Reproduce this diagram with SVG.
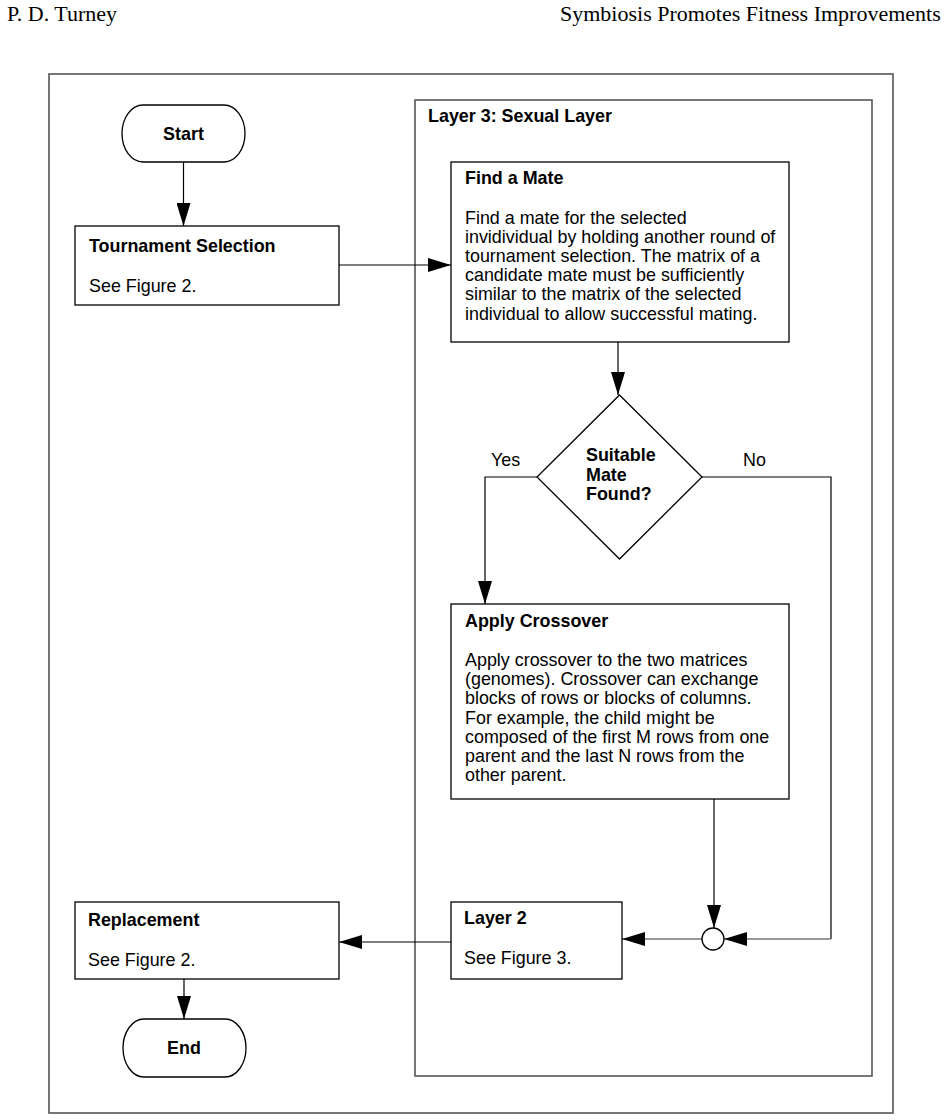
<svg xmlns="http://www.w3.org/2000/svg" width="948" height="1120" viewBox="0 0 948 1120">
<style>
.hdr{font-family:"Liberation Serif","Times New Roman",serif;font-size:22px;fill:#000}
.t{font-family:"Liberation Sans",Arial,sans-serif;font-size:17.9px;fill:#000}
.b{font-weight:bold}
.box{fill:#fff;stroke:#000;stroke-width:1.3}
.frame{fill:none;stroke:#555;stroke-width:1.6}
.c{fill:none;stroke:#000;stroke-width:1.2}
.cg{fill:none;stroke:#777;stroke-width:1.6}
</style>
<defs>
<marker id="ah" markerUnits="userSpaceOnUse" markerWidth="23" markerHeight="14" refX="23" refY="7" orient="auto">
<path d="M0,0 L23,7 L0,14 z" fill="#000"/>
</marker>
</defs>
<rect width="948" height="1120" fill="#fff"/>
<text class="hdr" x="7" y="21">P. D. Turney</text>
<text class="hdr" x="560" y="21">Symbiosis Promotes Fitness Improvements</text>
<rect id="outer-frame" class="frame" x="49" y="74" width="844" height="1039"/>
<g id="layer3">
<rect class="frame" x="415" y="100" width="457" height="976"/>
<text class="t b" x="428" y="122">Layer 3: Sexual Layer</text>
</g>
<g id="connectors">
<path class="c" d="M183.5,162 V226" marker-end="url(#ah)"/>
<path class="c" d="M339,265 H451" marker-end="url(#ah)"/>
<path class="c" d="M618,342 V395" marker-end="url(#ah)"/>
<path class="c" d="M537,477 H485 V604" marker-end="url(#ah)"/>
<path class="c" d="M702,477 H831 V939"/>
<path class="cg" d="M831,939 H724" marker-end="url(#ah)"/>
<path class="c" d="M714,799 V928" marker-end="url(#ah)"/>
<path class="cg" d="M702,939 H622" marker-end="url(#ah)"/>
<path class="c" d="M451,942 H339" marker-end="url(#ah)"/>
<path class="c" d="M184,979 V1019" marker-end="url(#ah)"/>
</g>
<g id="start">
<rect class="box" x="122" y="105" width="123" height="57" rx="21" ry="28.5"/>
<text class="t b" x="183.5" y="140" text-anchor="middle">Start</text>
</g>
<g id="tournament">
<rect class="box" x="75" y="226" width="264" height="79"/>
<text class="t b" x="89" y="252">Tournament Selection</text>
<text class="t" x="89" y="292">See Figure 2.</text>
</g>
<g id="find-mate">
<rect class="box" x="451" y="162" width="338" height="180"/>
<text class="t b" x="465" y="184">Find a Mate</text>
<text class="t" x="465" y="223.5">Find a mate for the selected</text>
<text class="t" x="465" y="242.7">invidividual by holding another round of</text>
<text class="t" x="465" y="261.9">tournament selection. The matrix of a</text>
<text class="t" x="465" y="281.1">candidate mate must be sufficiently</text>
<text class="t" x="465" y="300.3">similar to the matrix of the selected</text>
<text class="t" x="465" y="319.5">individual to allow successful mating.</text>
</g>
<g id="decision">
<polygon class="box" points="619.5,395 702,477 619.5,559 537,477"/>
<text class="t b" x="586" y="461">Suitable</text>
<text class="t b" x="586" y="481">Mate</text>
<text class="t b" x="586" y="500">Found?</text>
<text class="t" x="491" y="466">Yes</text>
<text class="t" x="743" y="466">No</text>
</g>
<g id="crossover">
<rect class="box" x="451" y="604" width="338" height="195"/>
<text class="t b" x="465" y="627">Apply Crossover</text>
<text class="t" x="465" y="666">Apply crossover to the two matrices</text>
<text class="t" x="465" y="685.2">(genomes). Crossover can exchange</text>
<text class="t" x="465" y="704.4">blocks of rows or blocks of columns.</text>
<text class="t" x="465" y="723.6">For example, the child might  be</text>
<text class="t" x="465" y="742.8">composed of the first M rows from one</text>
<text class="t" x="465" y="762">parent and the last N rows from the</text>
<text class="t" x="465" y="781.2">other parent.</text>
</g>
<g id="merge">
<circle class="box" cx="713" cy="939" r="11"/>
</g>
<g id="layer2">
<rect class="box" x="451" y="902" width="171" height="77"/>
<text class="t b" x="464" y="924">Layer 2</text>
<text class="t" x="464" y="964">See Figure 3.</text>
</g>
<g id="replacement">
<rect class="box" x="75" y="902" width="264" height="77"/>
<text class="t b" x="88" y="926">Replacement</text>
<text class="t" x="88" y="966">See Figure 2.</text>
</g>
<g id="end">
<rect class="box" x="123" y="1019" width="123" height="58" rx="21" ry="29"/>
<text class="t b" x="184" y="1054" text-anchor="middle">End</text>
</g>
</svg>
